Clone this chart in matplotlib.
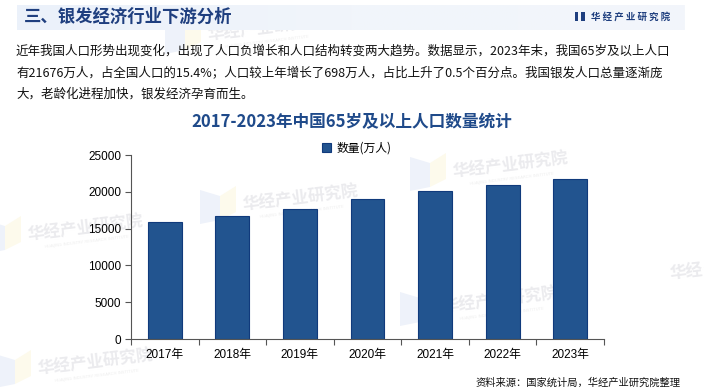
import numpy as np
import matplotlib
matplotlib.use('Agg')
import matplotlib.pyplot as plt
from matplotlib.patches import Rectangle, Polygon

# data
years = ['2017年', '2018年', '2019年', '2020年', '2021年', '2022年', '2023年']
values = [15831, 16658, 17603, 19064, 20056, 20978, 21676]
y_ticks = [0, 5000, 10000, 15000, 20000, 25000]

header_title = '三、银发经济行业下游分析'
logo_text = '华 经 产 业 研 究 院'
para_lines = [
    '近年我国人口形势出现变化，出现了人口负增长和人口结构转变两大趋势。数据显示，2023年末，我国65岁及以上人口',
    '有21676万人，占全国人口的15.4%；人口较上年增长了698万人，占比上升了0.5个百分点。我国银发人口总量逐渐庞',
    '大，老龄化进程加快，银发经济孕育而生。',
]
chart_title = '2017-2023年中国65岁及以上人口数量统计'
legend_label = '数量(万人)'
source_text = '资料来源：国家统计局，华经产业研究院整理'

cjk = ['Noto Sans CJK SC', 'DejaVu Sans']
latin_cjk = ['Liberation Sans', 'Noto Sans CJK SC']
navy = '#1f3f7f'
bar_face = '#22548f'
bar_edge = '#103a7c'

W, H = 704, 392
fig = plt.figure(figsize=(W / 100, H / 100), dpi=100)
fig.patch.set_facecolor('white')

def fx(x):
    return x / W

def fy(y):
    return 1 - y / H

# background layer for faint watermarks (pixel coords)
bg = fig.add_axes([0, 0, 1, 1], zorder=-10)
bg.set_xlim(0, W)
bg.set_ylim(H, 0)
bg.set_axis_off()
marks = [(265, 28), (85, 228), (300, 198), (510, 165), (95, 362), (500, 300)]
for mx, my in marks:
    bg.add_patch(Polygon([[mx - 100, my - 8], [mx - 80, my - 2], [mx - 80, my + 22], [mx - 100, my + 26]],
                         closed=True, facecolor='#eef2fa', edgecolor='none'))
    bg.add_patch(Polygon([[mx - 80, my - 2], [mx - 64, my - 12], [mx - 64, my + 14], [mx - 80, my + 22]],
                         closed=True, facecolor='#fdfaec', edgecolor='none'))
    bg.text(mx, my, '华经产业研究院', family=cjk, fontsize=12, fontweight='bold',
            color='#ebebee', rotation=7, ha='center', va='center')
    bg.text(mx + 2, my + 14, 'HUAJING INDUSTRY RESEARCH INSTITUTE', fontsize=3,
            color='#eeeeee', rotation=7, ha='center', va='center')
bg.text(686, 272, '华经', family=cjk, fontsize=12, fontweight='bold',
        color='#ebebee', rotation=7, ha='center', va='center')

# header bar with gradient
hax = fig.add_axes([fx(17), fy(30), fx(685 - 17), 25 / H], zorder=-5)
grad = np.linspace(0, 1, 256).reshape(1, -1)
hax.imshow(grad, aspect='auto', cmap=matplotlib.colors.LinearSegmentedColormap.from_list(
    'hb', ['#ebf1fa', '#f1f5fb', '#f3f6fb']), extent=[0, 1, 0, 1])
hax.set_axis_off()

fig.text(fx(24), fy(17), header_title, family=cjk, fontsize=12.5, fontweight='bold',
         color=navy, ha='left', va='center')

# logo
fig.patches.append(Rectangle((fx(575), fy(21)), fx(3), 9 / H, transform=fig.transFigure,
                             facecolor=navy, edgecolor='none'))
fig.patches.append(Rectangle((fx(581), fy(21)), fx(4), 9 / H, transform=fig.transFigure,
                             facecolor=navy, edgecolor='none'))
fig.text(fx(591), fy(16.5), logo_text, family=cjk, fontsize=6.8, fontweight='bold',
         color=navy, ha='left', va='center')

# paragraph
for i, line in enumerate(para_lines):
    fig.text(fx(16), fy(51 + i * 21.5), line, family=cjk, fontsize=9.0,
             color='#111111', ha='left', va='center')

# chart title
fig.text(fx(352), fy(122), chart_title, family=cjk, fontsize=12, fontweight='bold',
         color='#1f4a8a', ha='center', va='center')

# bar chart
ax = fig.add_axes([fx(131), fy(339), fx(604 - 131), (339 - 155) / H])
x = np.arange(len(years))
ax.bar(x, values, width=0.5, color=bar_face, edgecolor=bar_edge, linewidth=0.8,
       label=legend_label, zorder=2)
ax.set_xlim(-0.5, len(years) - 0.5)
ax.set_ylim(0, 25000)
ax.set_yticks(y_ticks)
ax.set_yticklabels([str(v) for v in y_ticks], family=latin_cjk, fontsize=8.5)
ax.set_xticks(x)
ax.set_xticklabels(years, family=latin_cjk, fontsize=8.5)
ax.set_xticks(np.arange(-0.5, len(years)), minor=True)
ax.tick_params(axis='x', which='major', length=0, pad=7)
ax.tick_params(axis='x', which='minor', length=4, width=0.8, color='#555555')
ax.tick_params(axis='y', length=4, width=0.8, color='#555555', pad=3)
for s in ['top', 'right']:
    ax.spines[s].set_visible(False)
for s in ['left', 'bottom']:
    ax.spines[s].set_color('#555555')
    ax.spines[s].set_linewidth(0.8)
ax.patch.set_alpha(0)

leg = fig.legend(loc='center', bbox_to_anchor=(fx(357), fy(148)), frameon=False,
                 prop={'family': cjk, 'size': 8.5}, handlelength=0.7, handleheight=0.7,
                 handletextpad=0.5)

# source
fig.text(fx(681), fy(383), source_text, family=cjk, fontsize=7.4, color='#111111',
         ha='right', va='center')

fig.savefig('out.png', dpi=100)
